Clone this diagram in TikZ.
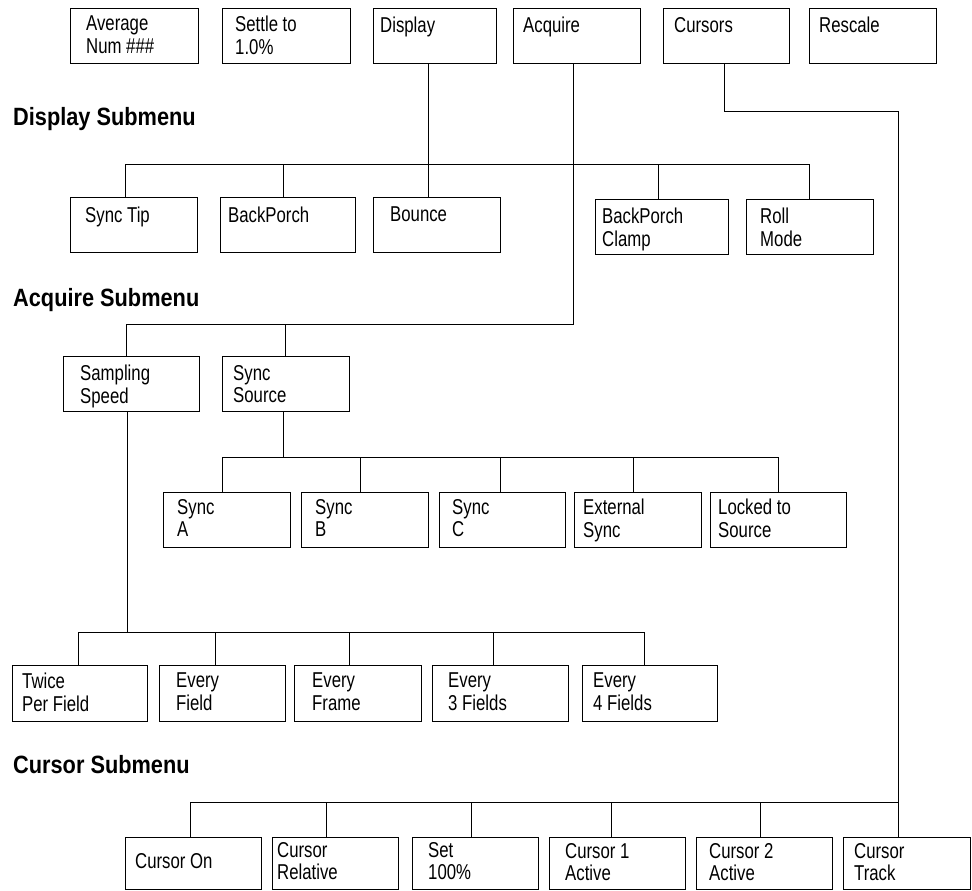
\documentclass[tikz,border=0pt]{standalone}
\usepackage{fontspec}
\setmainfont{Liberation Sans}[FakeStretch=0.78]
\newfontfamily\headfont{Liberation Sans}[FakeStretch=0.87]
\usetikzlibrary{calc}

\tikzset{
  menubox/.style={draw=black, line width=1pt, inner sep=0pt, fill=white},
  itemtext/.style={inner sep=0pt, align=left, anchor=north west,
    font=\fontsize{21.5}{22.5}\selectfont},
  heading/.style={inner sep=0pt, anchor=base west,
    font=\headfont\bfseries\fontsize{25}{28}\selectfont},
  wire/.style={draw=black, line width=1pt},
}

% #1 name, #2 left, #3 top, #4 right, #5 bottom, #6 text left, #7 text top, #8 text
\newcommand{\menuitem}[8]{%
  \node[menubox, anchor=north west,
        minimum width={(#4-#2)*1pt}, minimum height={(#5-#3)*1pt}]
        (#1) at (#2,#3) {};
  \node[itemtext] (#1-text) at (#6,#7) {#8};
}

\begin{document}
\begin{tikzpicture}[x=1pt, y=-1pt]
\useasboundingbox (0,0) rectangle (972,891);

% ---- main menu row
\menuitem{avg}{70}{8}{198}{63}{86}{16}{Average\\Num \#\#\#}
\menuitem{settle}{222}{8}{350}{63}{235}{16}{Settle to\\1.0\%}
\menuitem{display}{373}{8}{496}{63}{380}{17}{Display}
\menuitem{acquire}{513}{8}{640}{63}{523}{17}{Acquire}
\menuitem{cursors}{663}{8}{789}{63}{674}{17}{Cursors}
\menuitem{rescale}{809}{8}{936}{63}{819}{17}{Rescale}

% ---- display submenu
\node[heading] (hdisp) at (13,125) {Display Submenu};
\menuitem{synctip}{70}{197}{197}{252}{85}{207}{Sync Tip}
\menuitem{backporch}{220}{197}{355}{252}{228}{207}{BackPorch}
\menuitem{bounce}{373}{197}{500}{252}{390}{207}{Bounce}
\menuitem{bpclamp}{595}{199}{728}{254}{602}{208}{BackPorch\\Clamp}
\menuitem{rollmode}{746}{199}{873}{254}{760}{208}{Roll\\Mode}

% ---- acquire submenu
\node[heading] (hacq) at (13,306) {Acquire Submenu};
\menuitem{sampling}{63}{356}{199}{411}{80}{365}{Sampling\\Speed}
\menuitem{syncsrc}{222}{356}{349}{411}{233}{365}{Sync\\Source}

\menuitem{synca}{163}{492}{290}{547}{177}{499}{Sync\\A}
\menuitem{syncb}{301}{492}{428}{547}{315}{499}{Sync\\B}
\menuitem{syncc}{439}{492}{565}{547}{452}{499}{Sync\\C}
\menuitem{extsync}{574}{492}{701}{547}{583}{499}{External\\Sync}
\menuitem{locked}{710}{492}{846}{547}{718}{499}{Locked to\\Source}

\menuitem{twice}{12}{665}{147}{721}{22}{673}{Twice\\Per Field}
\menuitem{efield}{159}{665}{285}{721}{176}{673}{Every\\Field}
\menuitem{eframe}{294}{665}{421}{721}{312}{673}{Every\\Frame}
\menuitem{ethree}{432}{665}{568}{721}{448}{673}{Every\\3 Fields}
\menuitem{efour}{582}{665}{717}{721}{593}{673}{Every\\4 Fields}

% ---- cursor submenu
\node[heading] (hcur) at (13,773) {Cursor Submenu};
\menuitem{curon}{125}{837}{261}{889}{135}{853}{Cursor On}
\menuitem{currel}{272}{837}{398}{889}{277}{842}{Cursor\\Relative}
\menuitem{setpct}{412}{837}{538}{889}{428}{842}{Set\\100\%}
\menuitem{curone}{549}{837}{685}{889}{565}{843}{Cursor 1\\Active}
\menuitem{curtwo}{696}{837}{832}{889}{709}{843}{Cursor 2\\Active}
\menuitem{curtrack}{843}{837}{970}{889}{854}{843}{Cursor\\Track}

% ---- junction points of the connector buses
\coordinate (dbus) at (428,164);
\coordinate (abend) at (573,324);
\coordinate (abus) at (285,324);
\coordinate (cbend) at (724,111);
\coordinate (cbus) at (898,802);
\coordinate (sbus) at (283,457);
\coordinate (pbus) at (127,632);

% Display -> its submenu
\draw[wire] (display.south -| dbus) -- (bounce.north -| dbus);
\draw[wire] (synctip.north -| 125,0) -- (125,164) -- (809,164) -- (rollmode.north -| 809,0);
\draw[wire] (dbus -| 283,0) -- (backporch.north -| 283,0);
\draw[wire] (dbus -| 658,0) -- (bpclamp.north -| 658,0);

% Acquire -> its submenu
\draw[wire] (acquire.south -| abend) -- (abend) -- (126,324) -- (sampling.north -| 126,0);
\draw[wire] (abus) -- (syncsrc.north -| abus);

% Sync Source -> sync choices
\draw[wire] (syncsrc.south -| sbus) -- (sbus);
\draw[wire] (synca.north -| 222,0) -- (222,457) -- (778,457) -- (locked.north -| 778,0);
\draw[wire] (sbus -| 360,0) -- (syncb.north -| 360,0);
\draw[wire] (sbus -| 500,0) -- (syncc.north -| 500,0);
\draw[wire] (sbus -| 633,0) -- (extsync.north -| 633,0);

% Sampling Speed -> rate choices
\draw[wire] (sampling.south -| pbus) -- (pbus);
\draw[wire] (twice.north -| 78,0) -- (78,632) -- (644,632) -- (efour.north -| 644,0);
\draw[wire] (pbus -| 215,0) -- (efield.north -| 215,0);
\draw[wire] (pbus -| 349,0) -- (eframe.north -| 349,0);
\draw[wire] (pbus -| 493,0) -- (ethree.north -| 493,0);

% Cursors -> its submenu
\draw[wire] (cursors.south -| cbend) -- (cbend) -- (898,111) -- (curtrack.north -| 898,0);
\draw[wire] (curon.north -| 190,0) -- (190,802) -- (cbus);
\draw[wire] (cbus -| 326,0) -- (currel.north -| 326,0);
\draw[wire] (cbus -| 471,0) -- (setpct.north -| 471,0);
\draw[wire] (cbus -| 611,0) -- (curone.north -| 611,0);
\draw[wire] (cbus -| 760,0) -- (curtwo.north -| 760,0);
\end{tikzpicture}
\end{document}
